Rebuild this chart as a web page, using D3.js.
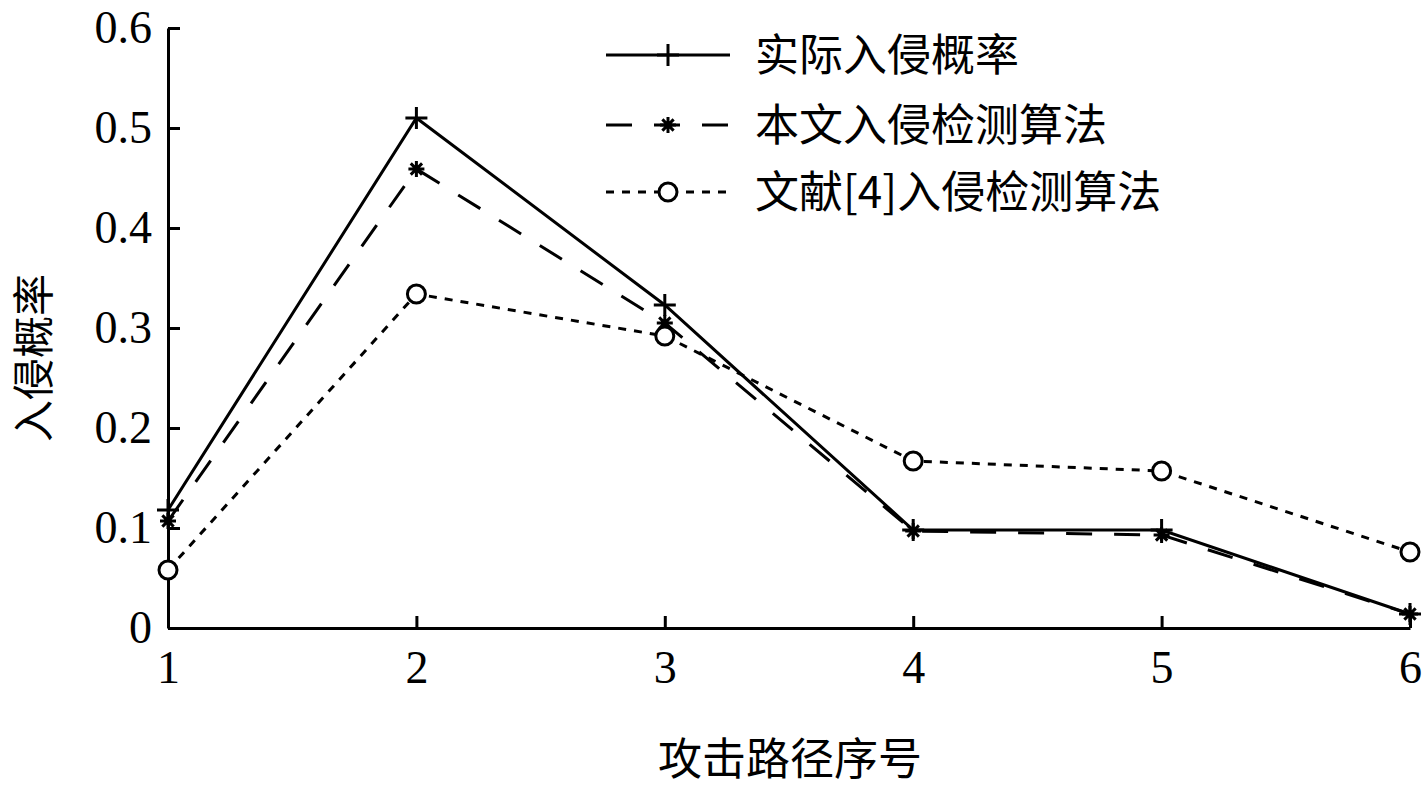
<!DOCTYPE html>
<html>
<head>
<meta charset="utf-8" />
<script src="https://d3js.org/d3.v7.min.js"></script>
<style>
  body { margin: 0; background: #fff; }
  text { fill: #000; }
</style>
</head>
<body>
<div id="chart"></div>
<script>
var width = 1424, height = 787;
var margin = {left: 168, right: 14, top: 28, bottom: 159};

var paths = [1, 2, 3, 4, 5, 6];
var actual = [0.118, 0.510, 0.323, 0.098, 0.098, 0.014];
var proposed = [0.107, 0.459, 0.305, 0.097, 0.093, 0.014];
var ref4 = [0.058, 0.334, 0.292, 0.167, 0.157, 0.076];
var yTicks = [0, 0.1, 0.2, 0.3, 0.4, 0.5, 0.6];
var names = ["实际入侵概率", "本文入侵检测算法", "文献[4]入侵检测算法"];

var serif = "'Liberation Serif', 'Times New Roman', serif";
var cjk = "'Noto Sans CJK SC', sans-serif";

var svg = d3.select("#chart").append("svg")
  .attr("width", width)
  .attr("height", height);

var x = d3.scaleLinear().domain([1, 6]).range([margin.left, width - margin.right]);
var y = d3.scaleLinear().domain([0, 0.6]).range([height - margin.bottom, margin.top]);

// axes with inward ticks
var xAxis = svg.append("g")
  .attr("transform", "translate(0," + y(0) + ")")
  .call(d3.axisBottom(x).tickValues(paths).tickSizeInner(-12).tickSizeOuter(0).tickPadding(22).tickFormat(d3.format("d")));
var yAxis = svg.append("g")
  .attr("transform", "translate(" + x(1) + ",0)")
  .call(d3.axisLeft(y).tickValues(yTicks).tickSizeInner(-12).tickSizeOuter(0).tickPadding(16)
    .tickFormat(function(d) { return d === 0 ? "0" : d3.format(".1f")(d); }));
[xAxis, yAxis].forEach(function(a) {
  a.selectAll("path, line").attr("stroke", "#000").attr("stroke-width", 3);
  a.selectAll("text").attr("font-family", serif).attr("font-size", 46).attr("fill", "#000");
});
xAxis.selectAll("text").attr("dy", "0.71em");

var series = [
  {vals: actual, dash: null, marker: "plus"},
  {vals: proposed, dash: "26,22", marker: "star"},
  {vals: ref4, dash: "8,8", marker: "circle"}
];

var line = d3.line().x(function(d, i) { return x(paths[i]); }).y(function(d) { return y(d); });

function drawMarker(g, type, cx, cy) {
  if (type === "plus") {
    g.append("path").attr("d", "M" + (cx - 11) + "," + cy + "H" + (cx + 11) + "M" + cx + "," + (cy - 11) + "V" + (cy + 11))
      .attr("stroke", "#000").attr("stroke-width", 3);
  } else if (type === "star") {
    var r = 8, d = "";
    for (var k = 0; k < 4; k++) {
      var a = k * Math.PI / 4;
      d += "M" + (cx - r * Math.cos(a)) + "," + (cy - r * Math.sin(a)) + "L" + (cx + r * Math.cos(a)) + "," + (cy + r * Math.sin(a));
    }
    g.append("path").attr("d", d).attr("stroke", "#000").attr("stroke-width", 3);
  } else {
    g.append("circle").attr("cx", cx).attr("cy", cy).attr("r", 9)
      .attr("fill", "#fff").attr("stroke", "#000").attr("stroke-width", 3);
  }
}

series.forEach(function(s) {
  svg.append("path").datum(s.vals)
    .attr("d", line)
    .attr("fill", "none").attr("stroke", "#000").attr("stroke-width", 3)
    .attr("stroke-dasharray", s.dash);
  var g = svg.append("g");
  s.vals.forEach(function(v, i) { drawMarker(g, s.marker, x(paths[i]), y(v)); });
});

// legend
var legendY = [55, 125, 192];
series.forEach(function(s, i) {
  var g = svg.append("g");
  g.append("line").attr("x1", 606).attr("x2", 730).attr("y1", legendY[i]).attr("y2", legendY[i])
    .attr("stroke", "#000").attr("stroke-width", 3).attr("stroke-dasharray", s.dash);
  drawMarker(g, s.marker, 668, legendY[i]);
  g.append("text").attr("x", 755).attr("y", legendY[i]).attr("dy", "0.36em")
    .attr("font-family", cjk).attr("font-size", 44).text(names[i]);
});

// axis titles
svg.append("text").attr("x", 790).attr("y", 760).attr("text-anchor", "middle").attr("dy", "0.35em")
  .attr("font-family", cjk).attr("font-size", 44).text("攻击路径序号");
svg.append("text").attr("transform", "translate(34,358) rotate(-90)").attr("text-anchor", "middle").attr("dy", "0.35em")
  .attr("font-family", cjk).attr("font-size", 42).text("入侵概率");
</script>
</body>
</html>
